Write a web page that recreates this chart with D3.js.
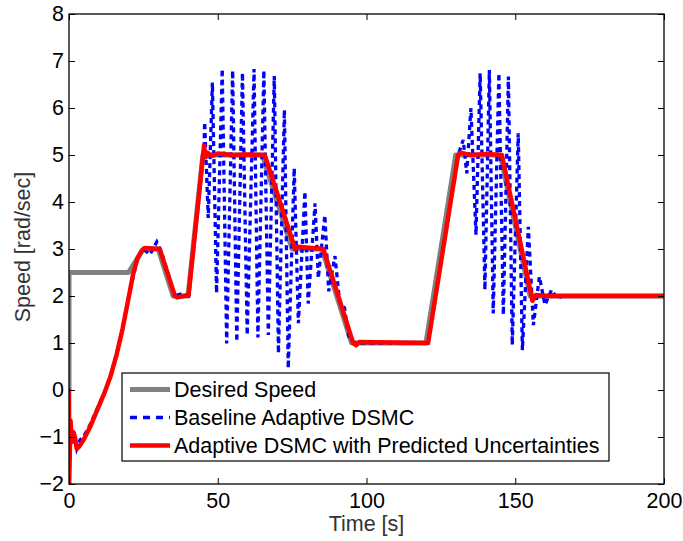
<!DOCTYPE html>
<html><head><meta charset="utf-8">
<script src="https://cdn.jsdelivr.net/npm/d3@7"></script>
<style>body{margin:0;background:#fff}svg{display:block}text{font-family:"Liberation Sans",Arial,sans-serif}</style>
</head><body><svg id="c" width="683" height="541"></svg>
<script>
const xTicks = [0, 50, 100, 150, 200];
const yTicks = [-2, -1, 0, 1, 2, 3, 4, 5, 6, 7, 8];
const seriesNames = ["Desired Speed", "Baseline Adaptive DSMC", "Adaptive DSMC with Predicted Uncertainties"];

const desiredT = [0, 0, 20, 25, 30, 35, 40, 45, 65, 75, 85, 95, 120, 130, 145, 155, 200];
const desiredV = [0, 2.5, 2.5, 3, 3, 2, 2, 5, 5, 3, 3, 1, 1, 5, 5, 2, 2];

const redT = [0, 0.05, 0.5, 1.0, 1.5, 2.0, 2.6, 3.5, 5, 7, 10, 12, 14, 16, 18, 20, 21.5, 23, 24.5, 25.5, 30.5, 35.6, 36.5, 40.2, 45.4, 45.9, 46.5, 48, 50, 55, 60, 65.8, 76, 77, 85.5, 95.5, 96.5, 97.5, 120.7, 130.8, 131.5, 135, 140, 145.5, 155.8, 157, 160, 200];
const redV = [0, -2, -0.65, -1.1, -0.9, -1.0, -1.25, -1.2, -1.05, -0.8, -0.35, -0.05, 0.3, 0.75, 1.3, 1.95, 2.45, 2.8, 2.97, 3.02, 3.0, 2.0, 1.97, 2.02, 5.2, 4.95, 5.05, 4.98, 5.03, 5.0, 5.01, 5.0, 3.0, 3.05, 3.0, 1.0, 0.95, 1.02, 1.0, 5.0, 5.05, 5.0, 5.02, 5.0, 1.9, 2.02, 2.0, 2.0];

const blueT = [0, 0.05, 0.5, 1.0, 1.5, 2.0, 2.6, 3.7, 5, 7, 10, 12, 14, 16, 18, 20, 23, 25, 27.2, 29.5, 31, 35.6, 38, 40.2, 45.4, 45.6, 46.8, 48.2, 49.6, 51.5, 53, 55, 56.4, 58.3, 59.9, 62.2, 63.5, 65.5, 67, 69, 70.4, 72.4, 73.7, 75.7, 77.1, 79.3, 80.4, 82.7, 83.8, 86, 87.3, 89.4, 91, 92.6, 94, 96, 120.7, 130.8, 132.5, 133.7, 135.1, 136.8, 138.2, 139.8, 141.3, 142.6, 144.5, 146, 147.7, 149, 151, 152.4, 154.4, 156.1, 158.1, 160, 162.2, 164, 166, 200];
const blueV = [0, -2, -0.7, -1.15, -0.95, -1.05, -1.25, -1.06, -0.98, -0.75, -0.32, -0.03, 0.32, 0.77, 1.32, 1.97, 2.8, 3.0, 2.88, 3.15, 2.95, 2.0, 2.05, 2.0, 5.2, 5.7, 3.66, 6.54, 2.06, 6.83, 0.99, 6.8, 1.03, 6.75, 1.17, 6.83, 1.12, 6.8, 1.17, 6.68, 0.78, 5.96, 0.46, 4.72, 1.42, 4.22, 1.84, 3.97, 2.38, 3.72, 2.1, 2.85, 1.85, 1.75, 1.15, 1.0, 1.0, 5.0, 5.32, 4.61, 6.0, 3.3, 6.74, 2.13, 6.81, 1.63, 6.74, 1.6, 6.67, 0.96, 5.46, 0.85, 3.47, 1.38, 2.41, 1.81, 2.13, 1.95, 2.0, 2.0];

const svg = d3.select("#c");
const L = 69, R = 664, T = 14, B = 484;
const x = d3.scaleLinear().domain([0, 200]).range([L, R]);
const y = d3.scaleLinear().domain([-2, 8]).range([B, T]);

const pts = (ts, vs) => ts.map((t, i) => [t, vs[i]]);
const line = d3.line().x(d => x(d[0])).y(d => y(d[1]));

svg.append("clipPath").attr("id", "pc").append("rect")
  .attr("x", L).attr("y", T).attr("width", R - L).attr("height", B - T);
const plot = svg.append("g").attr("clip-path", "url(#pc)");

plot.append("path").attr("d", line(pts(desiredT, desiredV)))
  .attr("fill", "none").attr("stroke", "#808080").attr("stroke-width", 5).attr("stroke-linejoin", "round");
plot.append("path").attr("d", line(pts(blueT, blueV)))
  .attr("fill", "none").attr("stroke", "#0000ff").attr("stroke-width", 3.3).attr("stroke-dasharray", "5,4");
plot.append("path").attr("d", line(pts(redT, redV)))
  .attr("fill", "none").attr("stroke", "#ff0000").attr("stroke-width", 4.5).attr("stroke-linejoin", "round").attr("stroke-linecap", "round");

// axes
const fs = 21.5;
const axB = d3.axisBottom(x).tickValues(xTicks).tickSizeInner(-6).tickSizeOuter(0).tickPadding(9);
const axT = d3.axisTop(x).tickValues(xTicks).tickSizeInner(-6).tickSizeOuter(0).tickFormat("");
const axL = d3.axisLeft(y).tickValues(yTicks).tickSizeInner(-6).tickSizeOuter(0).tickPadding(5).tickFormat(d => d < 0 ? "\u2212" + Math.abs(d) : d);
const axR = d3.axisRight(y).tickValues(yTicks).tickSizeInner(-6).tickSizeOuter(0).tickFormat("");
function style(g) {
  g.select(".domain").remove();
  g.selectAll("line").attr("stroke", "#000").attr("stroke-width", 1);
  g.selectAll("text").attr("fill", "#000").style("font-size", fs + "px").style("font-family", '"Liberation Sans", Arial, sans-serif');
}
svg.append("g").attr("transform", `translate(0,${B})`).call(axB).call(style);
svg.append("g").attr("transform", `translate(0,${T})`).call(axT).call(style);
svg.append("g").attr("transform", `translate(${L},0)`).call(axL).call(style);
svg.append("g").attr("transform", `translate(${R},0)`).call(axR).call(style);
svg.append("rect").attr("x", L).attr("y", T).attr("width", R - L).attr("height", B - T)
  .attr("fill", "none").attr("stroke", "#000").attr("stroke-width", 1.3);

// axis labels
svg.append("text").attr("x", (L + R) / 2).attr("y", 531).attr("text-anchor", "middle")
  .style("font-size", "21.5px").attr("fill", "#333").text("Time [s]");
svg.append("text").attr("transform", `translate(30,${(T + B) / 2 - 2}) rotate(-90)`).attr("text-anchor", "middle")
  .style("font-size", "21.5px").attr("fill", "#333").text("Speed [rad/sec]");

// legend
const lg = svg.append("g");
lg.append("rect").attr("x", 122).attr("y", 373).attr("width", 487).attr("height", 88)
  .attr("fill", "#fff").attr("stroke", "#000").attr("stroke-width", 1.2);
const rows = [389.5, 417.5, 445.5];
const styles = [
  {c: "#808080", w: 5, d: null},
  {c: "#0000ff", w: 3.3, d: "7,6"},
  {c: "#ff0000", w: 4.5, d: null}
];
seriesNames.forEach((n, i) => {
  const ln = lg.append("line").attr("x1", 130).attr("x2", 170).attr("y1", rows[i]).attr("y2", rows[i])
    .attr("stroke", styles[i].c).attr("stroke-width", styles[i].w);
  if (styles[i].d) ln.attr("stroke-dasharray", styles[i].d);
  lg.append("text").attr("x", 174).attr("y", rows[i] + 7.5).style("font-size", "21.5px").attr("fill", "#000").text(n);
});
</script></body></html>
